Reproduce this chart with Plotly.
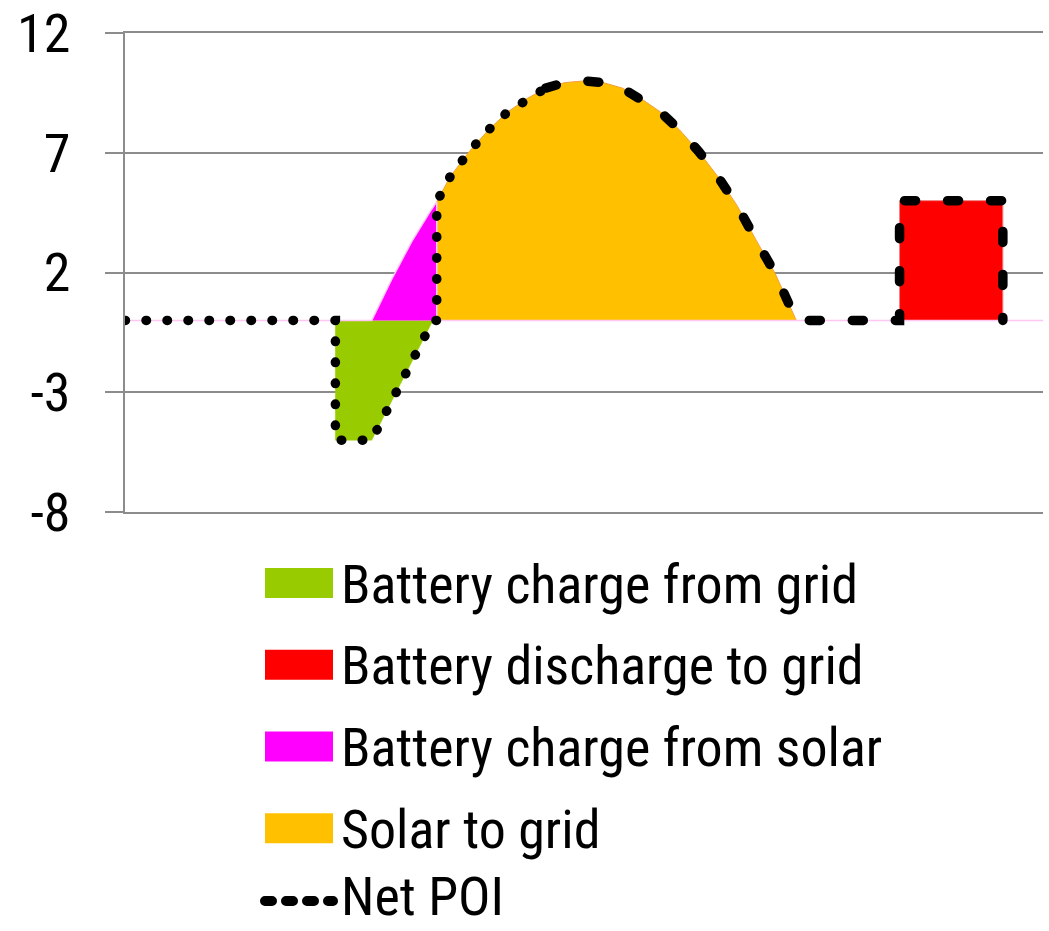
import plotly.graph_objects as go

# ---------------- data (hours of day, MW) ----------------
solar_t = [6.45, 7.0, 7.5, 8.0, 8.15, 8.5, 9.0, 9.5, 10.0, 10.5, 11.0, 11.5, 12.0,
           12.5, 13.0, 13.5, 14.0, 14.5, 15.0, 15.5, 16.0, 16.5, 17.0, 17.55]
solar_v = [0, 1.8, 3.3, 4.6, 4.95, 6.0, 7.05, 7.95, 8.7, 9.25, 9.7, 9.93, 10.0,
           9.93, 9.7, 9.25, 8.7, 7.95, 7.05, 6.0, 4.8, 3.35, 1.95, 0]

grid_charge_t = [5.5, 5.5, 6.45, 8.05]
grid_charge_v = [0, -5, -5, 0]

solar_charge_t = [0, 6.45, 7.0, 7.5, 8.0, 8.15, 8.15, 24]
solar_charge_v = [0, 0, 1.8, 3.3, 4.6, 4.95, 0, 0]

solar_grid_t = [8.15, 8.15, 8.5, 9.0, 9.5, 10.0, 10.5, 11.0, 11.5, 12.0, 12.5, 13.0,
                13.5, 14.0, 14.5, 15.0, 15.5, 16.0, 16.5, 17.0, 17.55]
solar_grid_v = [0, 4.95, 6.0, 7.05, 7.95, 8.7, 9.25, 9.7, 9.93, 10.0, 9.93, 9.7,
                9.25, 8.7, 7.95, 7.05, 6.0, 4.8, 3.35, 1.95, 0]

discharge_t = [20.25, 20.25, 22.95, 22.95]
discharge_v = [0, 5, 5, 0]

net_t = [0, 5.5, 5.5, 6.45, 8.05, 8.15, 8.15, 8.5, 9.0, 9.5, 10.0, 10.5, 11.0,
         11.5, 12.0, 12.5, 13.0, 13.5, 14.0, 14.5, 15.0, 15.5, 16.0, 16.5, 17.0,
         17.55, 20.25, 20.25, 22.95, 22.95]
net_v = [0, 0, -5, -5, 0, 0, 4.95, 6.0, 7.05, 7.95, 8.7, 9.25, 9.7,
         9.93, 10.0, 9.93, 9.7, 9.25, 8.7, 7.95, 7.05, 6.0, 4.8, 3.35, 1.95,
         0, 0, 5, 5, 0]
net_style_split = 12  # index where the dotted line turns dashed

y_ticks = [-8, -3, 2, 7, 12]

legend_names = ["Battery charge from grid", "Battery discharge to grid",
                "Battery charge from solar", "Solar to grid", "Net POI"]
legend_colors = ["#99CC00", "#FF0000", "#FF00FF", "#FFC000", "#000000"]

FONT = "Liberation Sans Narrow, Arial Narrow, Roboto Condensed, DejaVu Sans Condensed, sans-serif"

GREEN, RED, MAGENTA, ORANGE = legend_colors[:4]
DOT = "0.5px,20.5px"
DASH = "11px,32px"
LW = 9.5

fig = go.Figure()

fig.add_trace(go.Scatter(x=grid_charge_t, y=grid_charge_v, mode="lines", fill="tozeroy",
                         fillcolor=GREEN, line=dict(color=GREEN, width=0.5),
                         name=legend_names[0], showlegend=False, hoverinfo="skip"))
fig.add_trace(go.Scatter(x=discharge_t, y=discharge_v, mode="lines", fill="tozeroy",
                         fillcolor=RED, line=dict(color="#F08080", width=1),
                         name=legend_names[1], showlegend=False, hoverinfo="skip"))
fig.add_trace(go.Scatter(x=solar_grid_t, y=solar_grid_v, mode="lines", fill="tozeroy",
                         fillcolor=ORANGE, line=dict(color="#F0A040", width=1),
                         name=legend_names[3], showlegend=False, hoverinfo="skip"))
fig.add_trace(go.Scatter(x=solar_charge_t, y=solar_charge_v, mode="lines", fill="tozeroy",
                         fillcolor=MAGENTA, line=dict(color="#FFC8F4", width=1.5),
                         name=legend_names[2], showlegend=False, hoverinfo="skip"))

# Net POI: dotted then dashed
fig.add_trace(go.Scatter(x=net_t[:net_style_split + 1], y=net_v[:net_style_split + 1],
                         mode="lines", line=dict(color="black", width=LW, dash=DOT),
                         name=legend_names[4], showlegend=False, hoverinfo="skip"))
fig.add_trace(go.Scatter(x=net_t[net_style_split:], y=net_v[net_style_split:],
                         mode="lines", line=dict(color="black", width=LW, dash=DASH),
                         name=legend_names[4], showlegend=False, hoverinfo="skip"))

# ---------------- layout ----------------
W, H = 1049, 931
L, R, T, B = 125, 6, 33, 419
PW, PH = W - L - R, H - T - B


def px_x(px):
    return (px - L) / PW


def px_y(py):
    return (H - B - py) / PH


shapes = []
annotations = []
row0, pitch = 583, 81.75
for i, (name, col) in enumerate(zip(legend_names, legend_colors)):
    cy = row0 + pitch * i
    if i < 4:
        shapes.append(dict(type="rect", xref="paper", yref="paper",
                           x0=px_x(265), x1=px_x(333), y0=px_y(cy - 15), y1=px_y(cy + 15),
                           fillcolor=col, line=dict(width=0)))
        text_y = cy + 1
    else:
        cy = cy - 9  # keep the last entry inside the canvas
        shapes.append(dict(type="line", xref="paper", yref="paper",
                           x0=px_x(265), x1=px_x(333), y0=px_y(cy), y1=px_y(cy),
                           line=dict(color=col, width=10, dash="7px,14px")))
        text_y = cy - 5
    annotations.append(dict(text=name, xref="paper", yref="paper", x=px_x(339), y=px_y(text_y),
                            xanchor="left", yanchor="middle", showarrow=False,
                            font=dict(family=FONT, size=54, color="black")))

fig.update_layout(
    width=W, height=H, autosize=False,
    margin=dict(l=L, r=R, t=T, b=B, pad=0, autoexpand=False),
    paper_bgcolor="white", plot_bgcolor="white",
    font=dict(family=FONT, size=54, color="black"),
    xaxis=dict(range=[0, 24], showgrid=False, zeroline=False, showticklabels=False,
               ticks="", showline=True, mirror=True, linecolor="#8C8C8C", linewidth=1.5,
               fixedrange=True, automargin=False),
    yaxis=dict(range=[-8, 12], tickvals=y_ticks, ticktext=[str(v) for v in y_ticks],
               showgrid=True, gridcolor="#8C8C8C", gridwidth=1.5, zeroline=False,
               showline=True, linecolor="#8C8C8C", linewidth=1.5,
               ticks="outside", ticklen=18, tickcolor="#8C8C8C", tickwidth=1.5,
               ticklabelstandoff=24, automargin=False,
               tickfont=dict(family=FONT, size=54, color="black"), fixedrange=True),
    shapes=shapes, annotations=annotations, showlegend=False,
)

post = """
document.body.style.margin = '0';
document.body.style.padding = '0';
document.documentElement.style.overflow = 'hidden';
var gd = document.getElementById('{plot_id}');
function roundCaps(){
  gd.querySelectorAll('path').forEach(function(p){
    var d = p.style.strokeDasharray;
    if (d && d !== 'none') { p.style.strokeLinecap = 'round'; }
  });
}
roundCaps();
gd.on('plotly_afterplot', roundCaps);
"""

fig.write_html("out.html", post_script=post, config={"displayModeBar": False})
